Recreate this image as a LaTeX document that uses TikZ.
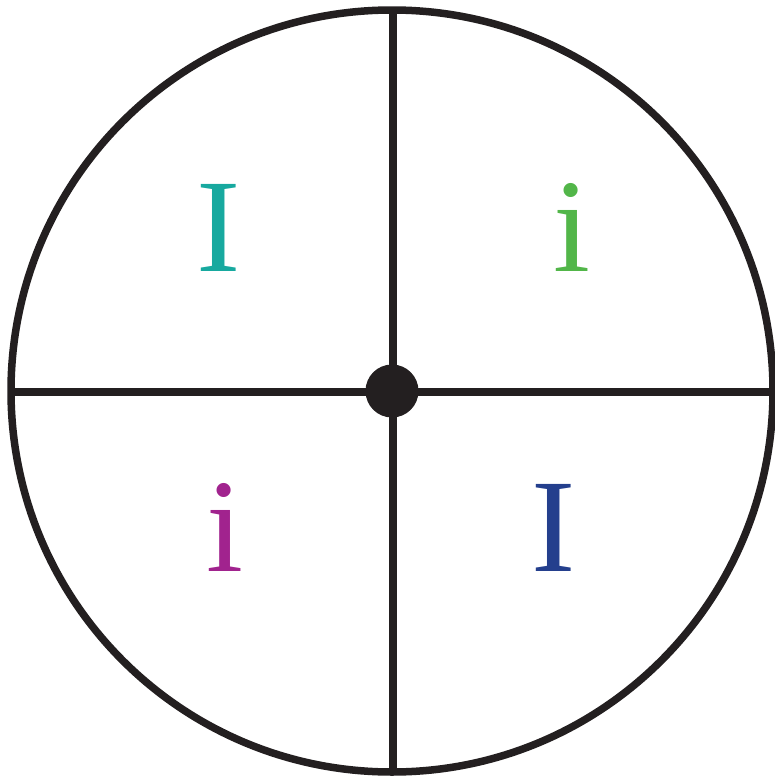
\documentclass[tikz,border=0pt]{standalone}
\usepackage{fontspec}
\setmainfont{Liberation Serif}
\usepackage{tikz}
\definecolor{rimblack}{HTML}{231F20}
\definecolor{letterteal}{HTML}{17A99F}
\definecolor{lettergreen}{HTML}{52B649}
\definecolor{letterpurple}{HTML}{A1238E}
\definecolor{letterblue}{HTML}{243F8D}
\tikzset{
  rim/.style={draw=rimblack, line width=7.5pt},
  spoke/.style={draw=rimblack, line width=7.5pt},
  hubdot/.style={circle, fill=rimblack, inner sep=0pt, minimum size=53pt},
  sector/.style={anchor=base, inner sep=0pt,
    font=\fontsize{133}{133}\selectfont}
}

\begin{document}
\begin{tikzpicture}[x=1pt, y=-1pt]
  \useasboundingbox (0,0) rectangle (775,779);

  % ── Wheel ─────────────────────────────────────────────────────────
  \coordinate (O) at (392, 391);
  \draw[rim] (O) circle (381);

  \coordinate (top)    at (393,  10);
  \coordinate (bottom) at (393, 772);
  \coordinate (left)   at ( 11, 392);
  \coordinate (right)  at (773, 392);

  \draw[spoke] (top)  -- (bottom);
  \draw[spoke] (left) -- (right);

  \node[hubdot] (hub) at (392, 391) {};

  % ── Letters in the four sectors ───────────────────────────────────
  \foreach \nm/\x/\y/\col/\lbl in {nw/219/271/letterteal/I,
                                  ne/572/271/lettergreen/i,
                                  sw/225/571/letterpurple/i,
                                  se/554/571/letterblue/I}
    { \node[sector, text=\col] (\nm) at (\x, \y) {\lbl}; }
\end{tikzpicture}
\end{document}
